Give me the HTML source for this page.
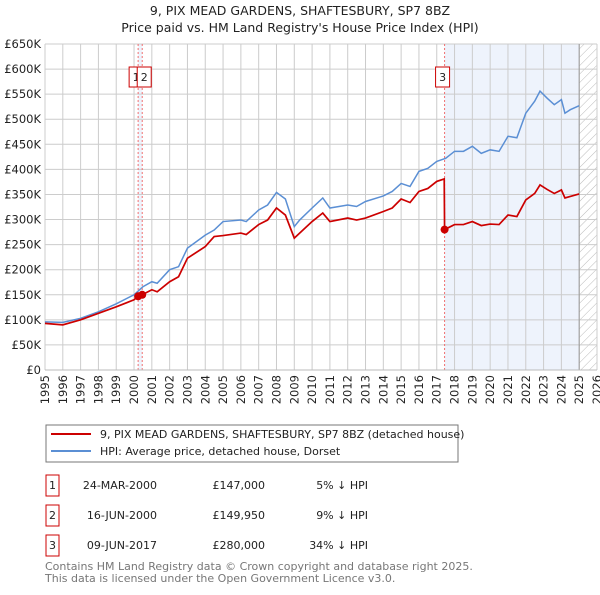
<!DOCTYPE html>
<html><head><meta charset="utf-8"><style>
body{margin:0;background:#fff;font-family:"Liberation Sans","DejaVu Sans",sans-serif;}
svg text{font-family:"DejaVu Sans","Liberation Sans",sans-serif;}
</style></head><body>
<svg id="c" width="600" height="590" xmlns="http://www.w3.org/2000/svg">
<defs><pattern id="hatch" width="6" height="6" patternUnits="userSpaceOnUse" patternTransform="rotate(45)"><line x1="0" y1="0" x2="0" y2="6" stroke="#bbb" stroke-width="1"/></pattern></defs>
<text x="300" y="15" text-anchor="middle" font-size="12.5" fill="#222">9, PIX MEAD GARDENS, SHAFTESBURY, SP7 8BZ</text>
<text x="300" y="32" text-anchor="middle" font-size="12.5" fill="#222">Price paid vs. HM Land Registry's House Price Index (HPI)</text>
<g id="plot"></g>
<g>
<rect x="46" y="425" width="412" height="37" fill="#fff" stroke="#777"/>
<line x1="51" y1="434" x2="91" y2="434" stroke="#cc0000" stroke-width="2"/>
<text x="100" y="438" font-size="11" fill="#222">9, PIX MEAD GARDENS, SHAFTESBURY, SP7 8BZ (detached house)</text>
<line x1="51" y1="451" x2="91" y2="451" stroke="#5b8fd4" stroke-width="2"/>
<text x="100" y="455" font-size="11" fill="#222">HPI: Average price, detached house, Dorset</text>
</g>
<g font-size="11" fill="#222">
<rect x="46" y="475" width="13" height="21" fill="#fff" stroke="#cc0000"/><text x="52.5" y="489" text-anchor="middle">1</text>
<text x="157" y="489" text-anchor="end">24-MAR-2000</text><text x="265" y="489" text-anchor="end">£147,000</text><text x="368" y="489" text-anchor="end">5% ↓ HPI</text>
<rect x="46" y="505" width="13" height="21" fill="#fff" stroke="#cc0000"/><text x="52.5" y="519" text-anchor="middle">2</text>
<text x="157" y="519" text-anchor="end">16-JUN-2000</text><text x="265" y="519" text-anchor="end">£149,950</text><text x="368" y="519" text-anchor="end">9% ↓ HPI</text>
<rect x="46" y="535" width="13" height="21" fill="#fff" stroke="#cc0000"/><text x="52.5" y="549" text-anchor="middle">3</text>
<text x="157" y="549" text-anchor="end">09-JUN-2017</text><text x="265" y="549" text-anchor="end">£280,000</text><text x="368" y="549" text-anchor="end">34% ↓ HPI</text>
</g>
<text x="45" y="570" font-size="11" fill="#777">Contains HM Land Registry data © Crown copyright and database right 2025.</text>
<text x="45" y="582" font-size="11" fill="#777">This data is licensed under the Open Government Licence v3.0.</text>
</svg>
<script>
const hpiYears=[1995,1996,1997,1998,1999,2000,2000.5,2001,2001.3,2002,2002.5,2003,2004,2004.5,2005,2006,2006.3,2007,2007.5,2008,2008.5,2009,2009.3,2010,2010.6,2011,2012,2012.5,2013,2014,2014.5,2015,2015.5,2016,2016.5,2017,2017.5,2018,2018.5,2019,2019.5,2020,2020.5,2021,2021.5,2022,2022.5,2022.8,2023.2,2023.6,2024,2024.2,2024.5,2025];
const hpiValues=[96,95,103,116,132,150,166,176,173,200,206,243,269,279,296,299,296,319,329,354,341,286,299,323,343,323,329,326,336,347,356,372,366,396,402,416,422,436,436,446,432,439,436,466,463,512,536,556,542,529,539,512,519,527];
const priceYears=[1995,1996,1997,1998,1999,2000,2000.23,2000.46,2001,2001.3,2002,2002.5,2003,2004,2004.5,2005,2006,2006.3,2007,2007.5,2008,2008.5,2009,2009.3,2010,2010.6,2011,2012,2012.5,2013,2014,2014.5,2015,2015.5,2016,2016.5,2017,2017.42,2017.44,2018,2018.5,2019,2019.5,2020,2020.5,2021,2021.5,2022,2022.5,2022.8,2023.2,2023.6,2024,2024.2,2024.5,2025];
const priceValues=[93,90,100,113,126,140,147,150,160,156,176,186,223,246,266,268,273,270,290,299,323,309,263,273,296,313,296,303,299,303,316,323,341,334,356,362,376,381,280,290,290,296,288,291,290,309,306,339,352,369,360,352,359,343,346,351];
const saleLabels=["1","2","3"];
const saleYears=[2000.23,2000.46,2017.44];
const saleValues=[147,149.95,280];
const yTicks=[0,50,100,150,200,250,300,350,400,450,500,550,600,650];
const xTicks=[1995,1996,1997,1998,1999,2000,2001,2002,2003,2004,2005,2006,2007,2008,2009,2010,2011,2012,2013,2014,2015,2016,2017,2018,2019,2020,2021,2022,2023,2024,2025,2026];
const X0=45,X1=597,Y0=370,Y1=44;
const xs=y=>X0+(y-1995)/(2026-1995)*(X1-X0);
const ys=v=>Y0-v/650*(Y0-Y1);
const NS="http://www.w3.org/2000/svg";
const g=document.getElementById('plot');
function mk(t,a,p){const e=document.createElementNS(NS,t);for(const k in a)e.setAttribute(k,a[k]);(p||g).appendChild(e);return e;}
let e;
e=mk('rect',{x:X0,y:Y1,width:X1-X0,height:Y0-Y1,fill:'#fff'});


e=mk('rect',{x:xs(saleYears[2]),y:Y1,width:xs(2025)-xs(saleYears[2]),height:Y0-Y1,fill:'#eef3fc'});


e=mk('rect',{x:xs(saleYears[0]),y:Y1,width:xs(saleYears[1])-xs(saleYears[0]),height:Y0-Y1,fill:'#eef3fc'});


e=mk('rect',{x:xs(2025),y:Y1,width:xs(2026)-xs(2025),height:Y0-Y1,fill:'url(#hatch)'});


yTicks.forEach(v=>{
 e=mk('line',{x1:X0,x2:X1,y1:ys(v),y2:ys(v),stroke:'#ccc','stroke-width':1});
 
 
 e=mk('text',{x:X0-4,y:ys(v)+4,'text-anchor':'end','font-size':'11.5',fill:'#222'});
 e.textContent=v===0?'£0':'£'+v+'K';
 
 
});
xTicks.forEach(y=>{
 e=mk('line',{x1:xs(y),x2:xs(y),y1:Y1,y2:Y0,stroke:'#ccc','stroke-width':1});
 
 
 e=mk('text',{x:0,y:0,'text-anchor':'end','font-size':'11.5',fill:'#222',transform:`translate(${xs(y)+4},${Y0+5}) rotate(-90)`});
 e.textContent=y;
 
 
});
e=mk('line',{x1:xs(2025),x2:xs(2025),y1:Y1,y2:Y0,stroke:'#999','stroke-width':1});


saleYears.forEach(y=>{
 e=mk('line',{x1:xs(y),x2:xs(y),y1:Y1,y2:Y0,stroke:'#f07070','stroke-width':1,'stroke-dasharray':'2,2'});
 
 
});
e=mk('polyline',{points:hpiYears.map((y,i)=>xs(y)+','+ys(hpiValues[i])).join(' '),fill:'none',stroke:'#5b8fd4','stroke-width':1.5});


e=mk('polyline',{points:priceYears.map((y,i)=>xs(y)+','+ys(priceValues[i])).join(' '),fill:'none',stroke:'#cc0000','stroke-width':1.7});


saleYears.forEach((y,i)=>{
 e=mk('circle',{cx:xs(y),cy:ys(saleValues[i]),r:4,fill:'#cc0000'});
 
 
});
const offs=[-9,-5,-9];
saleYears.forEach((y,i)=>{
 const bx=xs(y)+offs[i];
 e=mk('rect',{x:bx,y:67,width:14,height:20,fill:'#fff',stroke:'#cc0000'});
 
 
 e=mk('text',{x:bx+7,y:81,'text-anchor':'middle','font-size':'11',fill:'#222'});
 e.textContent=saleLabels[i];
 
 
});
e=mk('line',{x1:X0,x2:X1,y1:Y0,y2:Y0,stroke:'#bbb'});


</script>
</body></html>
